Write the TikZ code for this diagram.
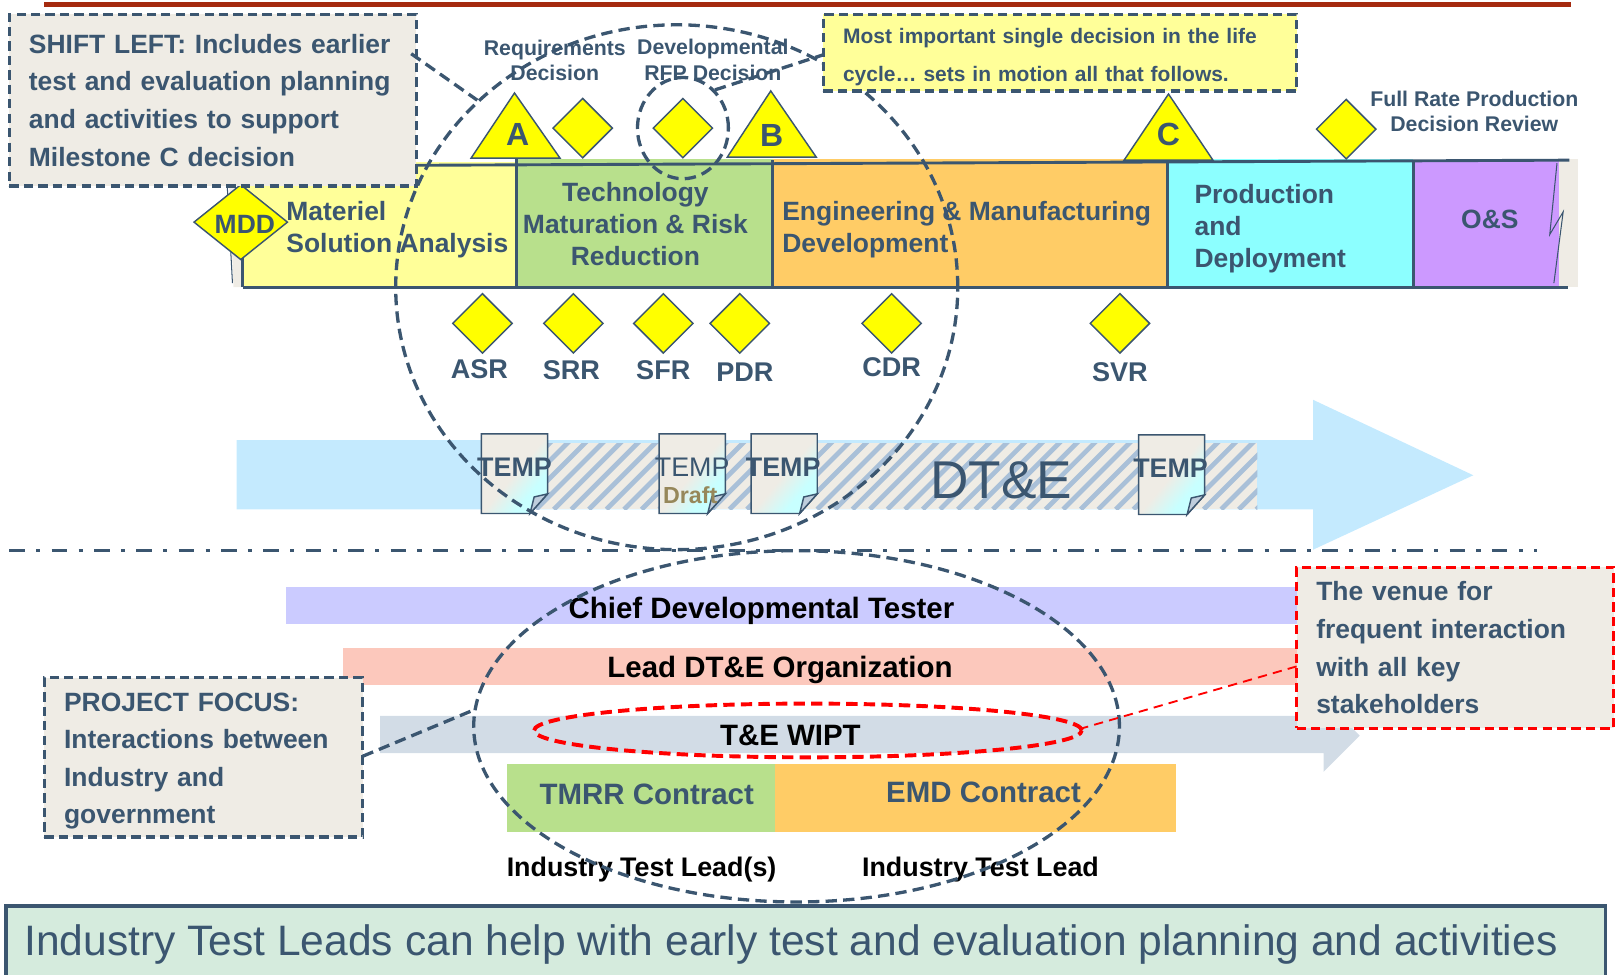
\documentclass[tikz,border=0pt]{standalone}
\usepackage{fontspec}
\setmainfont{Liberation Sans}
\usetikzlibrary{shapes.geometric, calc}
\definecolor{slate}{HTML}{3B5670}
\definecolor{paper}{HTML}{EFECE5}
\definecolor{lemon}{HTML}{FFFF99}
\definecolor{signal}{HTML}{FFFF00}
\definecolor{leaf}{HTML}{B8E08C}
\definecolor{amber}{HTML}{FFCC66}
\definecolor{aqua}{HTML}{8CFFFF}
\definecolor{lilac}{HTML}{CC99FF}
\definecolor{sky}{HTML}{C4EAFE}
\definecolor{stripe}{HTML}{A9C0D8}
\definecolor{periwinkle}{HTML}{CBCBFF}
\definecolor{salmon}{HTML}{FCC8BC}
\definecolor{mist}{HTML}{D2DCE6}
\definecolor{rust}{HTML}{A52A0F}
\definecolor{sage}{HTML}{D5EBDD}
\definecolor{tan}{HTML}{96875A}
\definecolor{doccyan}{HTML}{C8FFFF}
\pgfdeclareverticalshading{docfade}{100bp}{color(0bp)=(doccyan); color(33bp)=(doccyan); color(50bp)=(paper); color(100bp)=(paper)}
\tikzset{
	bigoval/.style={draw=slate, ellipse, line width=3.2pt, dash pattern=on 11pt off 6pt, inner sep=0pt},
	leader/.style={slate, line width=3.2pt, dash pattern=on 11pt off 6pt},
	gatemark/.style={draw=slate, fill=signal, line width=1.4pt},
	gatediamond/.style={gatemark, diamond, inner sep=0pt, minimum width=58pt, minimum height=58pt},
	notebox/.style={draw=slate, fill=paper, line width=3.2pt, dash pattern=on 9pt off 5pt, align=left, inner xsep=19pt, inner ysep=0pt, text=slate, font=\bfseries\fontsize{25.6}{36.4}\selectfont},
	phaselabel/.style={text=slate, font=\bfseries\fontsize{25.6}{31}\selectfont, inner sep=0pt},
	smalllabel/.style={text=slate, align=center, font=\bfseries\fontsize{20.6}{24.5}\selectfont, inner sep=0pt},
	reviewlabel/.style={text=slate, font=\bfseries\fontsize{26.2}{30}\selectfont, inner sep=0pt},
	doclabel/.style={text=slate, font=\bfseries\fontsize{26}{30}\selectfont, inner sep=0pt},
	barlabel/.style={text=black, font=\bfseries\fontsize{28.5}{32}\selectfont, inner sep=0pt},
	leadlabel/.style={text=black, font=\bfseries\fontsize{26}{30}\selectfont, inner sep=0pt},
}
\begin{document}
\begin{tikzpicture}[x=1pt, y=-1pt]
	\useasboundingbox (0, 0) rectangle (1568, 943);
	\fill[rust] (43, 2) rectangle (1521, 7);

	% phases
	\fill[paper] (222, 181) -- (235, 181) -- (235, 278) -- (226, 278) -- cycle;
	\draw[slate, line width=1pt] (220, 181) -- (225, 274);
	\fill[lemon] (235, 157) rectangle (500, 278);
	\fill[leaf] (500, 154) rectangle (748, 278);
	\fill[amber] (748, 154) rectangle (1130, 278);
	\fill[aqua] (1130, 154) rectangle (1368, 278);
	\fill[lilac] (1368, 156) rectangle (1509, 278);
	\fill[paper] (1509, 154) rectangle (1527, 278);
	\draw[slate, line width=2.8pt] (400, 160) -- (1519, 155);
	\draw[slate, line width=2.8pt] (235, 278) -- (1518, 278);
	\draw[slate, line width=2.8pt] (235, 250) -- (235, 278);
	\foreach \x/\y in {500/153, 748/155, 1130/155, 1368/155}
		\draw[slate, line width=2.8pt] (\x, \y) -- (\x, 278);
	\draw[slate, line width=1pt] (1507, 158) -- (1500, 227) -- (1513, 205) -- (1504, 274);
	\node[phaselabel, anchor=west, align=left] (msa) at (277, 222.5) {Materiel\\Solution Analysis};
	\node[phaselabel, align=center] (tmrr) at (615, 217) {Technology\\Maturation \& Risk\\Reduction};
	\node[phaselabel, anchor=west, align=left] (emd) at (757, 222.5) {Engineering \& Manufacturing\\Development};
	\node[phaselabel, anchor=west, align=left] (pd) at (1156, 221) {Production\\and\\Deployment};
	\node[phaselabel] (os) at (1442, 212) {O\&S};

	% milestones
	\draw[gatemark] (456, 153) -- (498, 90) -- (542, 153) -- cycle;
	\draw[gatemark] (704, 152) -- (746, 88) -- (790, 152) -- cycle;
	\draw[gatemark] (1088, 155) -- (1131, 91) -- (1174, 155) -- cycle;
	\foreach \letter/\x/\y in {A/501/130, B/747/131, C/1131/130}
		\node[text=slate, font=\bfseries\fontsize{31}{34}\selectfont, inner sep=0pt] (ms\letter) at (\x, \y) {\letter};
	\node[gatediamond, minimum width=91pt, minimum height=73pt] (mdd) at (233, 215) {};
	\node[phaselabel] (mddtext) at (237, 217) {MDD};
	\node[gatediamond] (reqdec) at (564, 124) {};
	\node[gatediamond] (rfpdec) at (661, 124) {};
	\node[gatediamond] (frpdec) at (1303, 125) {};
	\foreach \review/\x in {ASR/467, SRR/555, SFR/642, PDR/716, CDR/863, SVR/1084}
		\node[gatediamond] (\review) at (\x, 313) {};
	\foreach \review/\x/\ty in {ASR/464/357, SRR/553/358, SFR/642/358, PDR/721/360, CDR/863/355, SVR/1084/360}
		\node[reviewlabel] (\review text) at (\x, \ty) {\review};
	\node[smalllabel] (reqtext) at (537, 58.5) {Requirements\\Decision};
	\node[smalllabel] (rfptext) at (690, 58) {Developmental\\RFP Decision};
	\node[smalllabel] (frptext) at (1427, 108) {Full Rate Production\\Decision Review};

	% DT&E arrow
	\fill[sky] (229, 426) -- (1271, 426) -- (1271, 387) -- (1426, 460) -- (1271, 532) -- (1271, 493) -- (229, 493) -- cycle;
	\begin{scope}
		\clip (500, 429) rectangle (1217, 493);
		\fill[paper] (500, 429) rectangle (1217, 493);
		\foreach \x in {434, 451, ..., 1217}
			\draw[stripe, line width=4.6pt] (\x, 493) -- ++(68, -68);
	\end{scope}
	\node[text=slate, font=\fontsize{51.5}{56}\selectfont, inner sep=0pt] (dte) at (969, 465) {DT\&E};
	\foreach \x/\y in {466/420, 638/420, 727/420, 1102/421} {
		\begin{scope}[shift={(\x, \y)}]
			\shade[draw=slate, line width=1.4pt, shading=docfade, shading angle=50]
				(0, 0) -- (64, 0) -- (64, 58) -- (47, 77) -- (0, 77) -- cycle;
			\fill[stripe!70!paper, draw=slate, line width=1.4pt] (64, 58) -- (51, 61) -- (47, 77) -- cycle;
		\end{scope}
	}
	\node[doclabel] (tempa) at (498, 452) {TEMP};
	\node[doclabel, font=\fontsize{26}{30}\selectfont] (tempdraft) at (670, 452) {TEMP};
	\node[text=tan, font=\bfseries\fontsize{22.5}{24}\selectfont, inner sep=0pt] (draft) at (668, 479) {Draft};
	\node[doclabel] (tempb) at (758, 452) {TEMP};
	\node[doclabel] (tempc) at (1133, 453) {TEMP};

	\draw[slate, line width=3pt, dash pattern=on 15pt off 11pt on 4pt off 11pt] (9, 533) -- (1488, 533);

	% people and contracts
	\fill[periwinkle] (277, 568) rectangle (1255, 604);
	\fill[salmon] (332, 627) rectangle (1255, 663);
	\fill[mist] (368, 693) -- (1281, 693) -- (1281, 677) -- (1316, 712) -- (1281, 747) -- (1281, 729) -- (368, 729) -- cycle;
	\fill[leaf] (491, 739) rectangle (750, 805);
	\fill[amber] (750, 739) rectangle (1138, 805);
	\node[barlabel] (cdt) at (737, 591) {Chief Developmental Tester};
	\node[barlabel] (lead) at (755, 648) {Lead DT\&E Organization};
	\node[barlabel] (wipt) at (765, 712) {T\&E WIPT};
	\node[barlabel, text=slate] (tmrrc) at (626, 769) {TMRR Contract};
	\node[barlabel, text=slate] (emdc) at (952, 767) {EMD Contract};
	\node[leadlabel] (itla) at (621, 842) {Industry Test Lead(s)};
	\node[leadlabel] (itlb) at (949, 842) {Industry Test Lead};

	% ovals and notes
	\node[bigoval, minimum width=544pt, minimum height=508pt] (upperoval) at (655, 278) {};
	\node[bigoval, minimum width=88pt, minimum height=98pt] (rfpoval) at (661, 124) {};
	\node[bigoval, minimum width=625pt, minimum height=340pt] (loweroval) at (771, 703) {};
	\node[bigoval, draw=red, minimum width=530pt, minimum height=52pt, line width=3.8pt] (wiptoval) at (782, 707) {};
	\node[notebox, minimum width=394pt, minimum height=166pt, text width=356pt] (shiftleft) at (206, 97) {SHIFT LEFT: Includes earlier\\test and evaluation planning\\and activities to support\\Milestone C decision};
	\node[notebox, fill=lemon, minimum width=458pt, minimum height=74pt, text width=420pt, font=\bfseries\fontsize{20.3}{36.4}\selectfont] (lifecycle) at (1026, 51) {\rule{0pt}{23pt}Most important single decision in the life\\cycle\dots{} sets in motion all that follows.};
	\node[notebox, minimum width=308pt, minimum height=154pt, text width=270pt] (focus) at (197, 733) {\rule{0pt}{25pt}PROJECT FOCUS:\\Interactions between\\Industry and\\government};
	\node[notebox, draw=red, minimum width=307pt, minimum height=156pt, text width=269pt] (venue) at (1408.5, 627) {The venue for\\frequent interaction\\with all key\\stakeholders};
	\coordinate (shiftout) at (398, 52);
	\coordinate (shiftin) at (462, 97);
	\coordinate (rfpout) at (692, 87);
	\coordinate (lifein) at (797, 53);
	\coordinate (focusout) at (351, 732);
	\coordinate (focusin) at (459, 687);
	\coordinate (venuein) at (1255, 645);
	\coordinate (wiptout) at (1047, 705);
	\draw[leader] (shiftout) -- (shiftin);
	\draw[leader] (rfpout) -- (lifein);
	\draw[leader] (focusout) -- (focusin);
	\draw[red, line width=1.8pt, dash pattern=on 9pt off 6pt] (venuein) -- (wiptout);

	\node[draw=slate, fill=sage, line width=3.4pt, minimum width=1548pt, minimum height=72pt, inner sep=0pt] (summary) at (780, 913) {};
	\node[text=slate, font=\fontsize{41.2}{44}\selectfont, inner sep=0pt] (summarytext) at (765.5, 914) {Industry Test Leads can help with early test and evaluation planning and activities};
\end{tikzpicture}
\end{document}
